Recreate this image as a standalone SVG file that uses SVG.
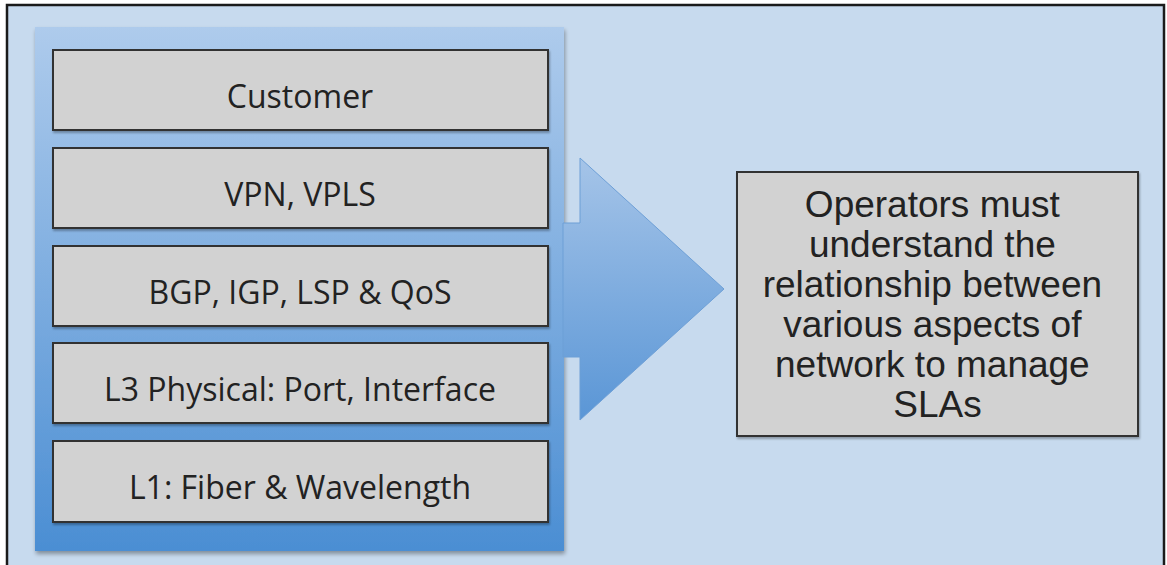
<svg xmlns="http://www.w3.org/2000/svg" width="1167" height="565" viewBox="0 0 1167 565">
  <defs>
    <linearGradient id="panelGrad" x1="0" y1="0" x2="0" y2="1">
      <stop offset="0" stop-color="#aecbec"/>
      <stop offset="1" stop-color="#4b8ed3"/>
    </linearGradient>
    <linearGradient id="arrowGrad" gradientUnits="userSpaceOnUse" x1="0" y1="158" x2="0" y2="420">
      <stop offset="0" stop-color="#a5c4e8"/>
      <stop offset="1" stop-color="#5a96d6"/>
    </linearGradient>
    <filter id="shadow" x="-5%" y="-5%" width="110%" height="110%">
      <feGaussianBlur in="SourceAlpha" stdDeviation="2"/>
      <feOffset dx="1" dy="3" result="b"/>
      <feComponentTransfer><feFuncA type="linear" slope="0.35"/></feComponentTransfer>
      <feMerge><feMergeNode/><feMergeNode in="SourceGraphic"/></feMerge>
    </filter>
    <filter id="boxshadow" x="-5%" y="-10%" width="110%" height="130%">
      <feGaussianBlur in="SourceAlpha" stdDeviation="1"/>
      <feOffset dx="1" dy="2" result="b"/>
      <feComponentTransfer><feFuncA type="linear" slope="0.3"/></feComponentTransfer>
      <feMerge><feMergeNode/><feMergeNode in="SourceGraphic"/></feMerge>
    </filter>
  </defs>
  <style>
    .layer { fill: #d2d2d2; stroke: #333; stroke-width: 2; }
    .ltext { font-family: "Open Sans", "Lato", sans-serif; font-size: 32px; fill: #222; text-anchor: middle; }
    .rtext { font-family: "Liberation Sans", Arial, sans-serif; font-size: 37px; fill: #222; text-anchor: middle; }
  </style>
  <rect x="0" y="0" width="1167" height="565" fill="#ffffff"/>
  <rect x="7" y="5" width="1157" height="570" fill="#c7daee" stroke="#1a1a1a" stroke-width="2.5"/>

  <g id="panel">
    <rect x="35" y="27" width="529" height="524" fill="url(#panelGrad)" filter="url(#shadow)"/>
  </g>

  <g id="connectors">
    <polygon points="563,223 580,223 580,158 724,289 580,420 580,357 563,357" fill="url(#arrowGrad)" stroke="#6d9fd6" stroke-width="1"/>
  </g>

  <g id="customer">
    <rect class="layer" x="53" y="50" width="495" height="80" filter="url(#boxshadow)"/>
    <text class="ltext" x="300" y="108">Customer</text>
  </g>
  <g id="vpn">
    <rect class="layer" x="53" y="148" width="495" height="80" filter="url(#boxshadow)"/>
    <text class="ltext" x="300" y="206">VPN, VPLS</text>
  </g>
  <g id="bgp">
    <rect class="layer" x="53" y="246" width="495" height="80" filter="url(#boxshadow)"/>
    <text class="ltext" x="300" y="304">BGP, IGP, LSP &amp; QoS</text>
  </g>
  <g id="l3">
    <rect class="layer" x="53" y="343" width="495" height="80" filter="url(#boxshadow)"/>
    <text class="ltext" x="300" y="401">L3 Physical: Port, Interface</text>
  </g>
  <g id="l1">
    <rect class="layer" x="53" y="441" width="495" height="81" filter="url(#boxshadow)"/>
    <text class="ltext" x="300" y="499">L1: Fiber &amp; Wavelength</text>
  </g>

  <g id="operators">
    <rect class="layer" x="737" y="172" width="401" height="264" filter="url(#boxshadow)"/>
    <text class="rtext">
      <tspan x="937.5" y="217">Operators must</tspan>
      <tspan x="937.5" y="257">understand the</tspan>
      <tspan x="937.5" y="297">relationship between</tspan>
      <tspan x="937.5" y="337">various aspects of</tspan>
      <tspan x="937.5" y="377">network to manage</tspan>
      <tspan x="937.5" y="417">SLAs</tspan>
    </text>
  </g>
</svg>
